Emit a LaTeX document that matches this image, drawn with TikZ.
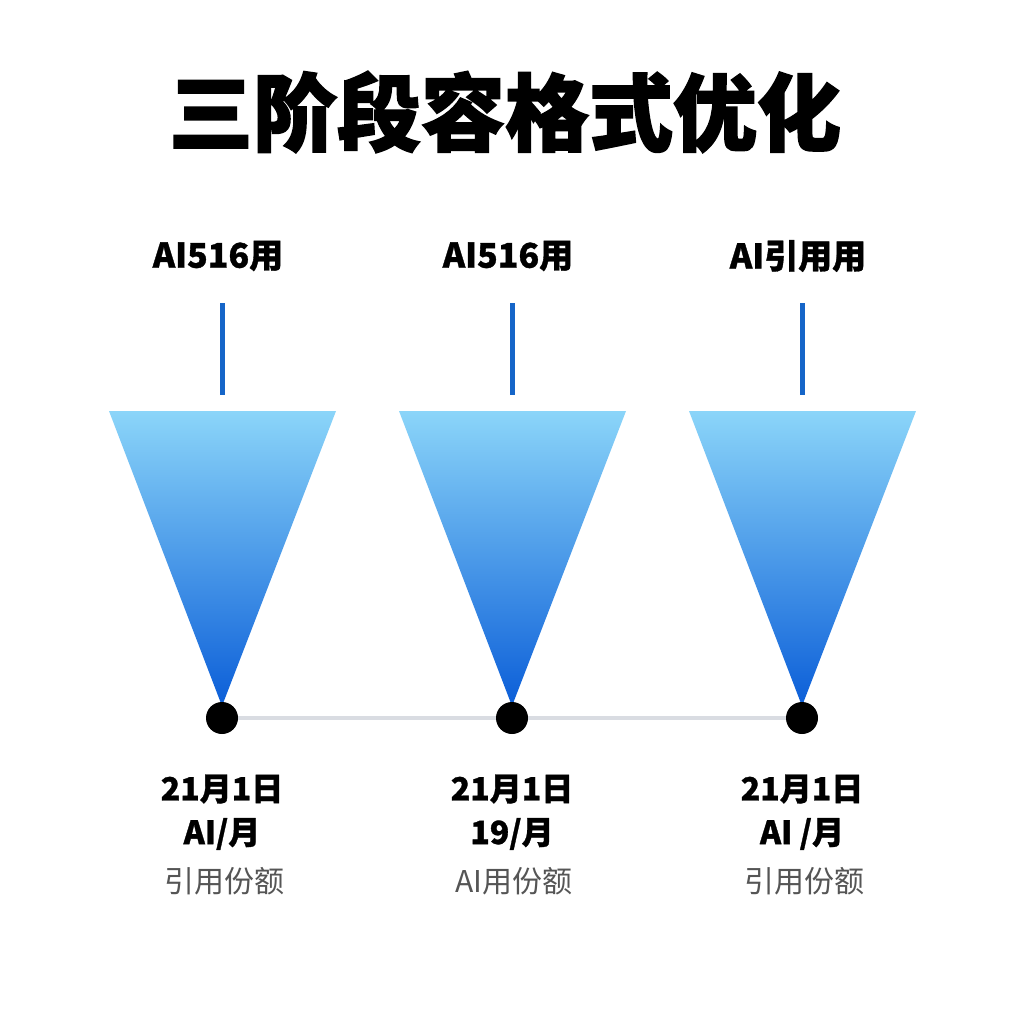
\documentclass[tikz,border=0pt]{standalone}
\usepackage{fontspec}
\newfontfamily\cjk{Noto Sans CJK SC}
\newfontfamily\cjkheavy{Noto Sans CJK SC}[BoldFeatures={FakeBold=2}]
\newfontfamily\cjkmed{Noto Sans CJK SC}[BoldFeatures={FakeBold=1}]
\definecolor{topblue}{HTML}{8BD5F9}
\definecolor{botblue}{HTML}{0B5ED8}
\definecolor{stemblue}{HTML}{1565C8}
\definecolor{linegray}{HTML}{D9DCE2}
\definecolor{subgray}{HTML}{555555}
\tikzset{
  funnel/.style={top color=topblue,bottom color=botblue,draw=none},
  stem/.style={draw=stemblue,line width=5pt},
  dotnode/.style={circle,fill=black,inner sep=0pt,minimum size=32pt},
  toplabel/.style={font=\cjkmed\bfseries\fontsize{34}{34}\selectfont,inner sep=0pt},
  datelabel/.style={font=\cjkmed\bfseries\fontsize{32}{32}\selectfont,inner sep=0pt},
  sublabel/.style={font=\cjk\fontsize{30}{30}\selectfont,text=subgray,inner sep=0pt},
  titlelabel/.style={font=\cjkheavy\bfseries\fontsize{84}{84}\selectfont,inner sep=0pt}
}
\begin{document}
\begin{tikzpicture}[x=1pt,y=-1pt]
\useasboundingbox (0,0) rectangle (1024,1024);
\fill[white] (0,0) rectangle (1024,1024);
\node[titlelabel] (title) at (505,112) {三阶段容格式优化};
% connector line
\coordinate (c1) at (222,718);
\coordinate (c2) at (512,718);
\coordinate (c3) at (802,718);
\draw[linegray,line width=4pt] (c1) -- (c2) -- (c3);
\foreach \i/\x/\lab/\dl/\sl in {1/222/{AI516用}/{AI/月}/{引用份额}, 2/512/{AI516用}/{19/月}/{AI用份额}, 3/802/{AI引用用}/{AI /月}/{引用份额}}{
  \shade[funnel] (\x-113,411) -- (\x+114,411) -- (\x,706) -- cycle;
  \coordinate (s\i top) at (\x,303);
  \coordinate (s\i bot) at (\x,395);
  \draw[stem] (s\i top) -- (s\i bot);
  \node[toplabel] (t\i) at (\x-4,256) {\lab};
  \node[dotnode] (d\i) at (c\i) {};
  \node[datelabel] (a\i) at (\x,789) {21月1日};
  \node[datelabel] (b\i) at (\x,834) {\dl};
  \node[sublabel] (e\i) at (\x+2,881) {\sl};
}
\end{tikzpicture}
\end{document}
